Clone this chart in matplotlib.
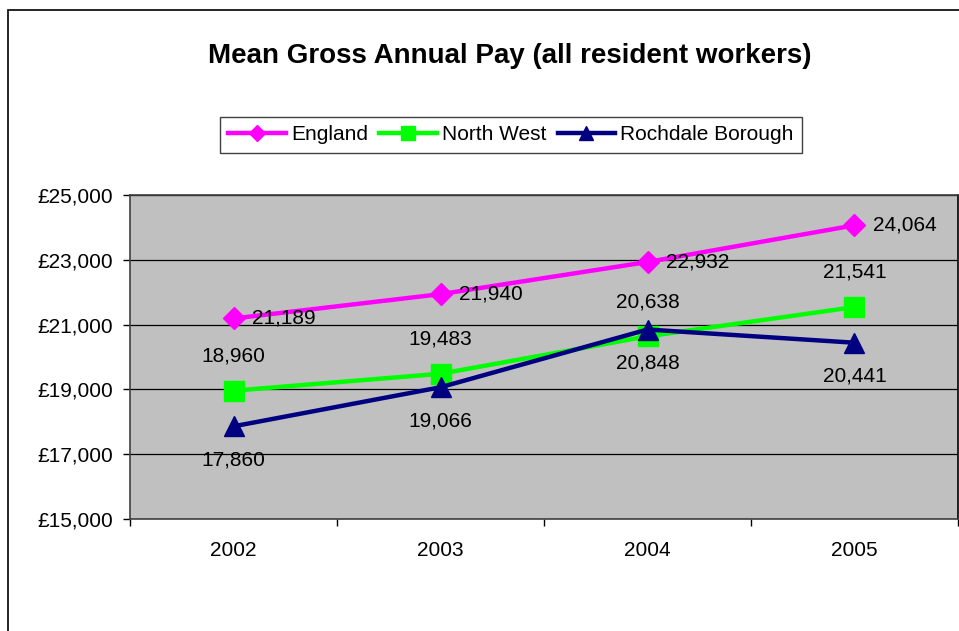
import matplotlib
matplotlib.use("Agg")
import matplotlib.pyplot as plt
from matplotlib.patches import Rectangle
from matplotlib.ticker import FuncFormatter

plt.rcParams['font.family'] = ['Liberation Sans', 'DejaVu Sans']

# datos
years = ['2002', '2003', '2004', '2005']
england = [21189, 21940, 22932, 24064]
north_west = [18960, 19483, 20638, 21541]
rochdale = [17860, 19066, 20848, 20441]

fig = plt.figure(figsize=(9.59, 6.31), dpi=100)
ax = fig.add_axes([130 / 959, 112 / 631, 828 / 959, 324 / 631])
ax.set_facecolor('#C0C0C0')

# marco exterior
fig.patches.append(Rectangle((8 / 959, -0.1), 1.2, 1.1 - 10 / 631, transform=fig.transFigure,
                             fill=False, edgecolor='black', linewidth=1.2, clip_on=False))

x = range(len(years))
ax.plot(x, england, color='#FF00FF', lw=3.2, marker='D', ms=11, label='England', zorder=3)
ax.plot(x, north_west, color='#00FF00', lw=3.2, marker='s', ms=14, label='North West', zorder=4)
ax.plot(x, rochdale, color='#000080', lw=3.2, marker='^', ms=14, label='Rochdale Borough', zorder=5)

# etiquetas de datos
for i, v in enumerate(england):
    ax.annotate(f'{v:,}', (i, v), xytext=(13, 0), textcoords='offset points',
                ha='left', va='center', fontsize=15, zorder=6)
for i, v in enumerate(north_west):
    ax.annotate(f'{v:,}', (i, v), xytext=(0, 25), textcoords='offset points',
                ha='center', va='center', fontsize=15, zorder=6)
for i, v in enumerate(rochdale):
    ax.annotate(f'{v:,}', (i, v), xytext=(0, -24), textcoords='offset points',
                ha='center', va='center', fontsize=15, zorder=6)

ax.set_xlim(-0.5, 3.5)
ax.set_ylim(15000, 25000)
ax.set_yticks([15000, 17000, 19000, 21000, 23000, 25000])
ax.yaxis.set_major_formatter(FuncFormatter(lambda v, p: f'£{int(v):,}'))
ax.grid(axis='y', color='black', lw=0.9)
ax.set_axisbelow(True)

ax.set_xticks(list(x))
ax.set_xticklabels(years)
ax.set_xticks([-0.5, 0.5, 1.5, 2.5, 3.5], minor=True)
ax.tick_params(axis='x', which='major', length=0, pad=16, labelsize=15)
ax.tick_params(axis='x', which='minor', length=5, width=1, direction='out')
ax.tick_params(axis='y', length=5, width=1, direction='out', pad=7, labelsize=15)

for s in ax.spines.values():
    s.set_color('#404040')
    s.set_linewidth(1.2)
ax.spines['right'].set_color('black')

fig.text(510 / 959, 1 - 56 / 631, 'Mean Gross Annual Pay (all resident workers)',
         ha='center', va='center', fontsize=20, fontweight='bold')

leg = fig.legend(loc='center', bbox_to_anchor=(511 / 959, 1 - 135 / 631), ncol=3,
                 fontsize=15, fancybox=False, framealpha=1, edgecolor='#404040',
                 handlelength=2.75, handletextpad=0.25, columnspacing=0.55,
                 borderpad=0.4, borderaxespad=0, markerscale=0.72)
leg.get_frame().set_linewidth(1.0)

plt.savefig('out.png', dpi=100)
plt.close()
